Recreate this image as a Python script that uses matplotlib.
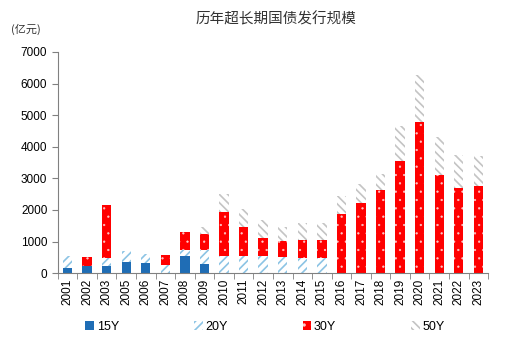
import matplotlib.pyplot as plt
import numpy as np

plt.rcParams['font.family'] = ['Liberation Sans', 'Noto Sans CJK SC', 'DejaVu Sans']

# 历年超长期国债发行规模（亿元）
years = ['2001', '2002', '2003', '2005', '2006', '2007', '2008', '2009', '2010', '2011', '2012',
         '2013', '2014', '2015', '2016', '2017', '2018', '2019', '2020', '2021', '2022', '2023']
y15 = [150, 220, 230, 360, 315, 0, 530, 295, 0, 0, 0,
       0, 0, 0, 0, 0, 0, 0, 0, 0, 0, 0]
y20 = [380, 0, 235, 340, 305, 250, 210, 445, 530, 550, 530,
       495, 490, 490, 0, 0, 0, 0, 0, 0, 0, 0]
y30 = [0, 280, 1700, 0, 0, 330, 570, 485, 1410, 895, 590,
       525, 545, 545, 1880, 2215, 2620, 3545, 4780, 3100, 2700, 2765]
y50 = [0, 0, 0, 0, 0, 0, 0, 220, 570, 600, 570,
       425, 545, 545, 550, 615, 525, 1120, 1500, 1205, 1035, 950]

x = np.arange(len(years))
w = 0.48
y15 = np.array(y15)
y20 = np.array(y20)
y30 = np.array(y30)
y50 = np.array(y50)

fig = plt.figure(figsize=(5.3, 3.44), dpi=100)
ax = fig.add_axes([0.109, 0.206, 0.812, 0.643])

ax.bar(x, y15, w, color='#1f6db5', label='15Y')
plt.rcParams['hatch.linewidth'] = 1.2
ax.bar(x, y20, w, bottom=y15, color='white', edgecolor='#8cc4e4', hatch='////', linewidth=0, label='20Y')
plt.rcParams['hatch.linewidth'] = 0.4
ax.bar(x, y30, w, bottom=y15 + y20, color='#ff0000', edgecolor='#ffc8c8', hatch='..', linewidth=0, label='30Y')
plt.rcParams['hatch.linewidth'] = 1.2
ax.bar(x, y50, w, bottom=y15 + y20 + y30, color='white', edgecolor='#c4c4c4', hatch='\\\\\\\\', linewidth=0, label='50Y')

ax.set_xlim(-0.5, len(years) - 0.5)
ax.set_ylim(0, 7000)
ax.set_yticks(range(0, 7001, 1000))
ax.set_xticks(x)
ax.set_xticklabels(years, rotation=90, fontsize=8.5)
ax.set_xticks(np.arange(-0.5, len(years), 1), minor=True)
ax.tick_params(axis='x', which='major', length=0, pad=4)
ax.tick_params(axis='x', which='minor', length=4, color='#808080')
ax.tick_params(axis='y', labelsize=8.5, length=4, color='#808080')
for s in ['top', 'right']:
    ax.spines[s].set_visible(False)
for s in ['left', 'bottom']:
    ax.spines[s].set_color('#808080')
    ax.spines[s].set_linewidth(0.8)

fig.text(0.52, 0.945, '历年超长期国债发行规模', ha='center', va='center', fontsize=10.5,
         family=['Noto Sans CJK SC'], color='#333333')
fig.text(0.02, 0.915, '(亿元)', ha='left', va='center', fontsize=8,
         family=['Noto Sans CJK SC'], color='#333333')

fig.legend(loc='center', bbox_to_anchor=(0.5, 0.05), ncol=4, frameon=False, fontsize=9,
           handlelength=0.7, handleheight=0.7, handletextpad=0.2, columnspacing=6.0)

fig.savefig('out.png', dpi=100)
